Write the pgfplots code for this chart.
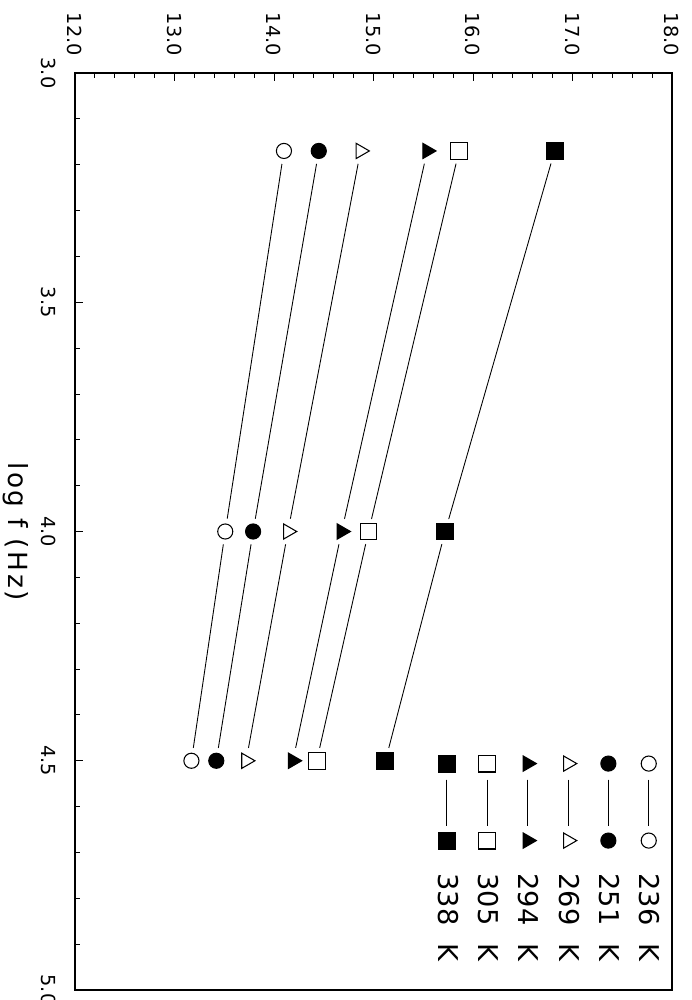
\documentclass[border=0pt]{standalone}
\usepackage{graphicx}
\usepackage{fontspec}
\setmainfont{DejaVu Sans}
\newfontfamily\labelfont{DejaVu Sans}[LetterSpace=10]
\usepackage{pgfplots}
\usepackage{pgfplotstable}
\pgfplotsset{compat=1.18}

% log f (Hz) against the measured quantity, one column per temperature
\pgfplotstableread{
f     k236  k251  k269  k294  k305  k338
3.17  14.10 14.45 14.87 15.54 15.86 16.82
4.00  13.51 13.79 14.14 14.68 14.95 15.72
4.50  13.17 13.42 13.72 14.19 14.43 15.12
}\data

\pgfplotsset{
  trace/.style={black, line width=0.5pt, no markers, forget plot},
  mask/.style={only marks, mark=*, mark size=7.3pt,
    mark options={draw=white, fill=white}, forget plot},
  pt/.style={black, only marks, mark size=#1, mark options={line width=0.6pt}},
  pairlegend/.style={legend image code/.code={
      \draw[black, line width=0.5pt] (0.32cm,0cm) -- (1.24cm,0cm);
      \draw[##1] plot coordinates {(0cm,0cm) (1.54cm,0cm)};
  }},
}

\begin{document}
\rotatebox{-90}{%
\begin{tikzpicture}
\begin{axis}[
  scale only axis,
  width=18.34cm, height=11.94cm,
  xmin=3, xmax=5, ymin=12, ymax=18,
  xtick={3,3.5,4,4.5,5}, ytick={12,13,14,15,16,17,18},
  minor x tick num=4, minor y tick num=4,
  tick pos=left, tick align=inside,
  major tick length=0.16cm, minor tick length=0.1cm,
  axis line style={line width=0.7pt},
  tick style={black, line width=0.5pt},
  /pgf/number format/assume math mode=true,
  tick label style={font=\fontsize{11}{13}\selectfont},
  xticklabel style={/pgf/number format/fixed, /pgf/number format/fixed zerofill,
    /pgf/number format/precision=1, yshift=-0.26cm},
  yticklabel style={/pgf/number format/fixed, /pgf/number format/fixed zerofill,
    /pgf/number format/precision=1, xshift=-0.22cm},
  xlabel={log f (Hz)},
  xlabel style={font=\labelfont\fontsize{15}{18}\selectfont,
    at={(axis description cs:0.5,0)}, anchor=north, yshift=-0.8cm},
  legend style={draw=none, fill=none, inner sep=0pt,
    at={(axis cs:4.487,17.92)}, anchor=north west,
    font=\fontsize{15.5}{18}\selectfont, row sep=0.21cm,
    nodes={inner sep=2pt},
    /tikz/every odd column/.append style={column sep=0.42cm}},
  legend cell align=left,
  pairlegend,
]
\pgfplotsinvokeforeach{k236,k251,k269,k294,k305,k338}{
  \addplot[trace] table[x=f, y=#1] {\data};
}
\pgfplotsinvokeforeach{k236,k251,k269,k294,k305,k338}{
  \addplot[mask] table[x=f, y=#1] {\data};
}
\addplot[pt=4.3pt, mark=o] table[x=f, y=k236] {\data};
\addlegendentry{236\hspace{0.37cm}K}
\addplot[pt=4.3pt, mark=*, fill=black] table[x=f, y=k251] {\data};
\addlegendentry{251\hspace{0.37cm}K}
\addplot[pt=5pt, mark=triangle] table[x=f, y=k269] {\data};
\addlegendentry{269\hspace{0.37cm}K}
\addplot[pt=5pt, mark=triangle*, fill=black] table[x=f, y=k294] {\data};
\addlegendentry{294\hspace{0.37cm}K}
\addplot[pt=4.8pt, mark=square] table[x=f, y=k305] {\data};
\addlegendentry{305\hspace{0.37cm}K}
\addplot[pt=4.8pt, mark=square*, fill=black] table[x=f, y=k338] {\data};
\addlegendentry{338\hspace{0.37cm}K}
\coordinate (bl) at (rel axis cs:0,0);
\coordinate (tr) at (rel axis cs:1,1);
\end{axis}
\pgfresetboundingbox
\path ([shift={(-1.46cm,-1.5cm)}]bl) rectangle ([shift={(0.2cm,0.38cm)}]tr);
\end{tikzpicture}}
\end{document}
